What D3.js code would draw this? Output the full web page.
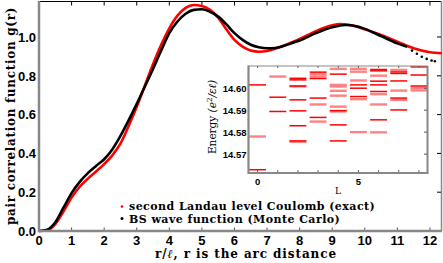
<!DOCTYPE html>
<html lang="en-US">
<head>
<script src="https://d3js.org/d3.v7.min.js"></script>
<style>
  body { margin: 0; background: #fff; }
  svg text { font-family: "Liberation Sans", Arial, sans-serif; }
  .serif { font-family: "DejaVu Serif", serif !important; }
</style>
</head>
<body>
<svg width="443" height="263"></svg>
<script>
// pair correlation g(r)
var rExact = [0, 0.25, 0.5, 0.75, 1, 1.25, 1.5, 1.75, 2, 2.25, 2.5, 2.75, 3, 3.25, 3.5, 3.75, 4, 4.25, 4.5, 4.75,
  5, 5.25, 5.5, 5.75, 6, 6.25, 6.5, 6.75, 7, 7.25, 7.5, 7.75, 8, 8.5, 9, 9.25, 9.5, 10, 10.5, 11, 11.5, 12, 12.36];
var gExact = [0, 0.004, 0.035, 0.10, 0.172, 0.228, 0.27, 0.307, 0.345, 0.39, 0.45, 0.54, 0.64, 0.75, 0.86, 0.96, 1.045, 1.11, 1.15, 1.165,
  1.16, 1.14, 1.10, 1.04, 0.985, 0.95, 0.93, 0.924, 0.928, 0.94, 0.955, 0.972, 0.99, 1.03, 1.06, 1.067, 1.063, 1.04, 1.01, 0.976, 0.942, 0.921, 0.916];

var rBS = [0, 0.25, 0.5, 0.75, 1, 1.25, 1.5, 1.75, 2, 2.25, 2.5, 2.75, 3, 3.25, 3.5, 3.75, 4, 4.25, 4.5, 4.75,
  5, 5.25, 5.5, 5.75, 6, 6.25, 6.5, 6.75, 7, 7.25, 7.5, 7.75, 8, 8.5, 9, 9.4, 9.75, 10, 10.5, 11, 11.3];
var gBS = [0, 0.006, 0.045, 0.12, 0.195, 0.253, 0.298, 0.335, 0.37, 0.42, 0.49, 0.57, 0.655, 0.745, 0.835, 0.93, 1.02, 1.08, 1.12, 1.14,
  1.143, 1.13, 1.105, 1.065, 1.02, 0.985, 0.96, 0.947, 0.942, 0.943, 0.953, 0.968, 0.982, 1.02, 1.05, 1.062, 1.055, 1.042, 1.005, 0.967, 0.95];
// sparse Monte Carlo points at the end
var rBSTail = [11.45, 11.6, 11.75, 11.9, 12.05, 12.15];
var gBSTail = [0.93, 0.914, 0.898, 0.887, 0.879, 0.875];

var xTicks = [0, 1, 2, 3, 4, 5, 6, 7, 8, 9, 10, 11, 12];
var yTicks = [0, 0.2, 0.4, 0.6, 0.8, 1.0];

// inset spectrum: [L, energy]
var solidLevels = [
  [0, 14.6015], [0, 14.5629],
  [1, 14.5959], [1, 14.5894],
  [2, 14.6045], [2, 14.6038], [2, 14.6010], [2, 14.5947], [2, 14.5897], [2, 14.5829], [2, 14.5760],
  [3, 14.6073], [3, 14.6044], [3, 14.5955], [3, 14.5867],
  [4, 14.6064], [4, 14.5898], [4, 14.5833], [4, 14.5760],
  [5, 14.6015], [5, 14.6000], [5, 14.5962],
  [6, 14.6085], [6, 14.6079], [6, 14.6032], [6, 14.6015], [6, 14.5985], [6, 14.5856],
  [7, 14.6074], [7, 14.6067], [7, 14.6033], [7, 14.5955], [7, 14.5901],
  [8, 14.6097], [8, 14.6060], [8, 14.6010]
];
var paleLevels = [
  [0, 14.5780],
  [1, 14.6053],
  [2, 14.6008], [2, 14.5756],
  [3, 14.6064], [3, 14.6053], [3, 14.5926], [3, 14.5848],
  [4, 14.6088], [4, 14.6015], [4, 14.6008], [4, 14.5988], [4, 14.5966], [4, 14.5916], [4, 14.5894],
  [5, 14.6088], [5, 14.6075], [5, 14.6035], [5, 14.5950], [5, 14.5800],
  [6, 14.6057], [6, 14.5973], [6, 14.5926], [6, 14.5799],
  [7, 14.6083], [7, 14.5989], [7, 14.5947],
  [8, 14.6001], [8, 14.5990]
];
var insetLTicks = [0, 1, 2, 3, 4, 5, 6, 7, 8];
var insetLLabels = [0, 5];
var insetETicks = [14.57, 14.58, 14.59, 14.60];

var svg = d3.select("svg");
var x = d3.scaleLinear().domain([0, 12.37]).range([39, 442]);
var y = d3.scaleLinear().domain([0, 1.183]).range([231, 1.5]);

// frame: thin top/right, thick grey left/bottom
svg.append("line").attr("x1", 39).attr("x2", 442).attr("y1", 1.5).attr("y2", 1.5).attr("stroke", "#000").attr("stroke-width", 1);
svg.append("line").attr("x1", 441.5).attr("x2", 441.5).attr("y1", 1).attr("y2", 231).attr("stroke", "#888").attr("stroke-width", 1.5);

svg.append("g").selectAll("line").data(xTicks).enter().append("line")
  .attr("x1", d => x(d)).attr("x2", d => x(d)).attr("y1", 1.5).attr("y2", 5.5)
  .attr("stroke", "#000").attr("stroke-width", 1);
svg.append("g").selectAll("line").data(yTicks).enter().append("line")
  .attr("x1", 441).attr("x2", 437).attr("y1", d => y(d)).attr("y2", d => y(d))
  .attr("stroke", "#000").attr("stroke-width", 1);
svg.append("g").selectAll("line").data(xTicks).enter().append("line")
  .attr("x1", d => x(d)).attr("x2", d => x(d)).attr("y1", 230).attr("y2", 227.5)
  .attr("stroke", "#555").attr("stroke-width", 1);

svg.append("g").selectAll("text").data(xTicks).enter().append("text")
  .attr("x", d => x(d)).attr("y", 244.5).attr("text-anchor", "middle")
  .attr("font-size", 13).attr("font-weight", "bold").text(d => d);
svg.append("g").selectAll("text").data(yTicks).enter().append("text")
  .attr("x", 36).attr("y", d => y(d) + 4.8).attr("text-anchor", "end")
  .attr("font-size", 13).attr("font-weight", "bold").text(d => d.toFixed(1));

svg.append("text").attr("class", "serif").attr("x", 246).attr("y", 257.5).attr("text-anchor", "middle")
  .attr("font-size", 12).attr("font-weight", "bold").attr("letter-spacing", 0.9)
  .html("r/<tspan font-style='italic'>ℓ</tspan>, r is the arc distance");
svg.append("text").attr("class", "serif").attr("transform", "translate(15,116) rotate(-90)")
  .attr("text-anchor", "middle").attr("font-size", 12).attr("font-weight", "bold").attr("letter-spacing", 0.7)
  .text("pair correlation function g(r)");

var line = d3.line().x(d => x(d[0])).y(d => y(d[1])).curve(d3.curveMonotoneX);
svg.append("path").datum(rExact.map((r, i) => [r, gExact[i]]))
  .attr("d", line).attr("fill", "none").attr("stroke", "#f00").attr("stroke-width", 2.6);
svg.append("path").datum(rBS.map((r, i) => [r, gBS[i]]))
  .attr("d", line).attr("fill", "none").attr("stroke", "#000").attr("stroke-width", 2.6);
svg.append("g").selectAll("circle").data(rBSTail.map((r, i) => [r, gBSTail[i]])).enter().append("circle")
  .attr("cx", d => x(d[0])).attr("cy", d => y(d[1])).attr("r", 1.3).attr("fill", "#000");

// axes drawn after curves
svg.append("line").attr("x1", 39).attr("x2", 39).attr("y1", 1).attr("y2", 232).attr("stroke", "#888").attr("stroke-width", 2.5);
svg.append("line").attr("x1", 38).attr("x2", 442).attr("y1", 231).attr("y2", 231).attr("stroke", "#888").attr("stroke-width", 2.5);

// legend
var legend = svg.append("g");
legend.append("circle").attr("cx", 122).attr("cy", 206.5).attr("r", 1.3).attr("fill", "#f00");
legend.append("circle").attr("cx", 122).attr("cy", 218.5).attr("r", 1.5).attr("fill", "#000");
legend.append("text").attr("class", "serif").attr("x", 129).attr("y", 210).attr("font-size", 11)
  .attr("font-weight", "bold").attr("letter-spacing", 0.45)
  .text("second Landau level Coulomb (exact)");
legend.append("text").attr("class", "serif").attr("x", 129).attr("y", 222.5).attr("font-size", 11)
  .attr("font-weight", "bold").attr("letter-spacing", 0.45)
  .text("BS wave function (Monte Carlo)");

// inset
var ix = d3.scaleLinear().domain([-0.45, 8.45]).range([248.5, 428]);
var iy = d3.scaleLinear().domain([14.5614, 14.6101]).range([173, 66]);
var inset = svg.append("g");
inset.append("rect").attr("x", 248.5).attr("y", 66).attr("width", 179.5).attr("height", 107).attr("fill", "#fff");

inset.selectAll(".pale").data(paleLevels).enter().append("line").attr("class", "pale")
  .attr("x1", d => ix(d[0] - 0.42)).attr("x2", d => ix(d[0] + 0.42))
  .attr("y1", d => iy(d[1])).attr("y2", d => iy(d[1]))
  .attr("stroke", "#ff8282").attr("stroke-width", 2.4);
inset.selectAll(".solid").data(solidLevels).enter().append("line").attr("class", "solid")
  .attr("x1", d => ix(d[0] - 0.42)).attr("x2", d => ix(d[0] + 0.42))
  .attr("y1", d => iy(d[1])).attr("y2", d => iy(d[1]))
  .attr("stroke", "#f00").attr("stroke-width", 1.5);

inset.append("line").attr("x1", 248.5).attr("x2", 428).attr("y1", 66).attr("y2", 66).attr("stroke", "#888").attr("stroke-width", 1);
inset.append("line").attr("x1", 427.5).attr("x2", 427.5).attr("y1", 66).attr("y2", 173).attr("stroke", "#888").attr("stroke-width", 2);
inset.append("line").attr("x1", 248.5).attr("x2", 248.5).attr("y1", 65.5).attr("y2", 174).attr("stroke", "#888").attr("stroke-width", 2.2);
inset.append("line").attr("x1", 248).attr("x2", 428.5).attr("y1", 173).attr("y2", 173).attr("stroke", "#888").attr("stroke-width", 2.2);

inset.append("g").selectAll("line").data(insetLTicks).enter().append("line")
  .attr("x1", d => ix(d)).attr("x2", d => ix(d)).attr("y1", 66).attr("y2", 68)
  .attr("stroke", "#666").attr("stroke-width", 1);
inset.append("g").selectAll("line").data(insetLTicks).enter().append("line")
  .attr("x1", d => ix(d)).attr("x2", d => ix(d)).attr("y1", 172).attr("y2", 170)
  .attr("stroke", "#666").attr("stroke-width", 1);
inset.append("g").selectAll("line").data(insetETicks).enter().append("line")
  .attr("x1", 427).attr("x2", 424).attr("y1", d => iy(d)).attr("y2", d => iy(d))
  .attr("stroke", "#555").attr("stroke-width", 1);

inset.append("g").selectAll("text").data(insetETicks).enter().append("text")
  .attr("x", 246.5).attr("y", d => iy(d) + 3.6).attr("text-anchor", "end")
  .attr("font-size", 9.5).attr("font-weight", "bold").text(d => d.toFixed(2));
inset.append("g").selectAll("text").data(insetLLabels).enter().append("text")
  .attr("x", d => ix(d)).attr("y", 185).attr("text-anchor", "middle")
  .attr("font-size", 9.5).attr("font-weight", "bold").text(d => d);
inset.append("text").attr("class", "serif").attr("x", 338).attr("y", 193.5).attr("text-anchor", "middle")
  .attr("font-size", 9).text("L");
inset.append("text").attr("class", "serif").attr("transform", "translate(215.5,117) rotate(-90)")
  .attr("text-anchor", "middle").attr("font-size", 10.5)
  .html("Energy <tspan font-style='italic'>(e</tspan><tspan font-size='7' dy='-3.5'>2</tspan><tspan dy='3.5' font-style='italic'>/εℓ)</tspan>");
</script>
</body>
</html>
